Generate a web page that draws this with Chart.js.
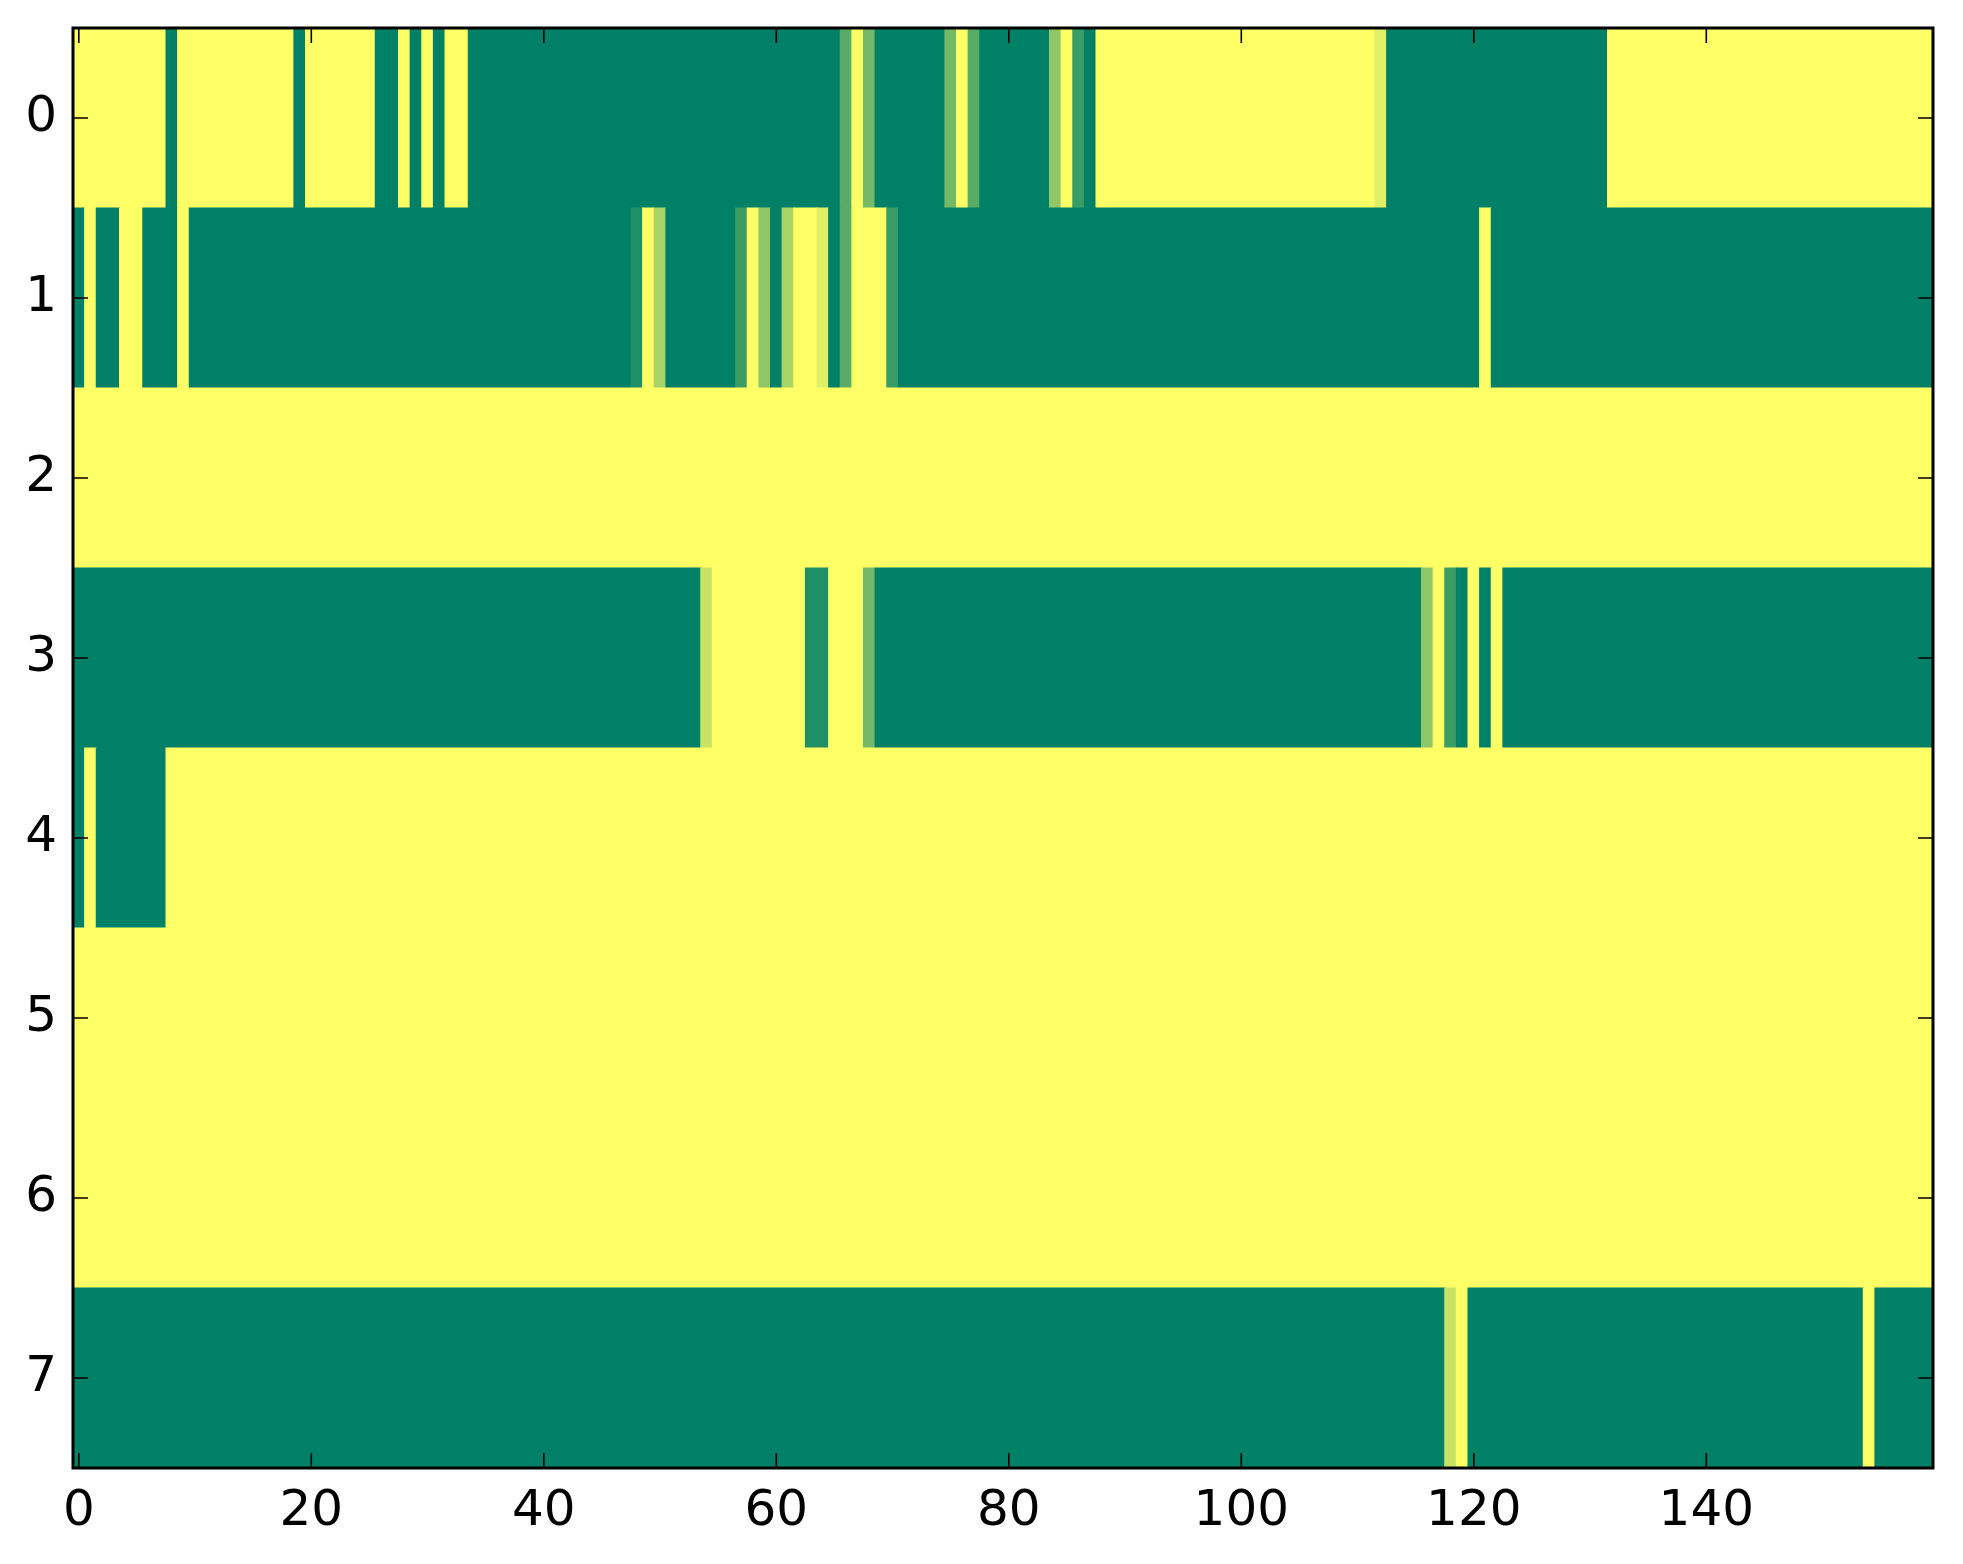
<!DOCTYPE html>
<html>
<head>
<meta charset="utf-8">
<script src="https://cdn.jsdelivr.net/npm/chart.js@4"></script>
<style>
html,body{margin:0;padding:0;background:#ffffff;}
canvas{display:block;}
</style>
</head>
<body>
<canvas id="c" width="1963" height="1564" style="width:1963px;height:1564px"></canvas>
<script>
// Row labels (y categories) and x tick labels
const rowLabels = ['0','1','2','3','4','5','6','7'];
const xTickValues = [0, 20, 40, 60, 80, 100, 120, 140];

// Cell values per row, 160 columns each (0 = green, 1 = yellow)
const row0 = [
  1,1,1,1,1,1,1,1,0,1,1,1,1,1,1,1,1,1,1,0,
  1,1,1,1,1,1,0,0,1,0,1,0,1,1,0,0,0,0,0,0,
  0,0,0,0,0,0,0,0,0,0,0,0,0,0,0,0,0,0,0,0,
  0,0,0,0,0,0,0.35,1,0.45,0,0,0,0,0,0,0.45,1,0.35,0,0,
  0,0,0,0,0.56,1,0.23,0,1,1,1,1,1,1,1,1,1,1,1,1,
  1,1,1,1,1,1,1,1,1,1,1,1,0.88,0,0,0,0,0,0,0,
  0,0,0,0,0,0,0,0,0,0,0,0,1,1,1,1,1,1,1,1,
  1,1,1,1,1,1,1,1,1,1,1,1,1,1,1,1,1,1,1,1
];
const row1 = [
  0,1,0,0,1,1,0,0,0,1,0,0,0,0,0,0,0,0,0,0,
  0,0,0,0,0,0,0,0,0,0,0,0,0,0,0,0,0,0,0,0,
  0,0,0,0,0,0,0,0,0.12,1,0.66,0,0,0,0,0,0,0.23,1,0.56,
  0,0.66,1,1,0.88,0,0.35,1,1,1,0.23,0,0,0,0,0,0,0,0,0,
  0,0,0,0,0,0,0,0,0,0,0,0,0,0,0,0,0,0,0,0,
  0,0,0,0,0,0,0,0,0,0,0,0,0,0,0,0,0,0,0,0,
  0,1,0,0,0,0,0,0,0,0,0,0,0,0,0,0,0,0,0,0,
  0,0,0,0,0,0,0,0,0,0,0,0,0,0,0,0,0,0,0,0
];
const row2 = [
  1,1,1,1,1,1,1,1,1,1,1,1,1,1,1,1,1,1,1,1,
  1,1,1,1,1,1,1,1,1,1,1,1,1,1,1,1,1,1,1,1,
  1,1,1,1,1,1,1,1,1,1,1,1,1,1,1,1,1,1,1,1,
  1,1,1,1,1,1,1,1,1,1,1,1,1,1,1,1,1,1,1,1,
  1,1,1,1,1,1,1,1,1,1,1,1,1,1,1,1,1,1,1,1,
  1,1,1,1,1,1,1,1,1,1,1,1,1,1,1,1,1,1,1,1,
  1,1,1,1,1,1,1,1,1,1,1,1,1,1,1,1,1,1,1,1,
  1,1,1,1,1,1,1,1,1,1,1,1,1,1,1,1,1,1,1,1
];
const row3 = [
  0,0,0,0,0,0,0,0,0,0,0,0,0,0,0,0,0,0,0,0,
  0,0,0,0,0,0,0,0,0,0,0,0,0,0,0,0,0,0,0,0,
  0,0,0,0,0,0,0,0,0,0,0,0,0,0,0.78,1,1,1,1,1,
  1,1,1,0.12,0.12,1,1,1,0.45,0,0,0,0,0,0,0,0,0,0,0,
  0,0,0,0,0,0,0,0,0,0,0,0,0,0,0,0,0,0,0,0,
  0,0,0,0,0,0,0,0,0,0,0,0,0,0,0,0,0.56,1,0.23,0,
  1,0,1,0,0,0,0,0,0,0,0,0,0,0,0,0,0,0,0,0,
  0,0,0,0,0,0,0,0,0,0,0,0,0,0,0,0,0,0,0,0
];
const row4 = [
  0,1,0,0,0,0,0,0,1,1,1,1,1,1,1,1,1,1,1,1,
  1,1,1,1,1,1,1,1,1,1,1,1,1,1,1,1,1,1,1,1,
  1,1,1,1,1,1,1,1,1,1,1,1,1,1,1,1,1,1,1,1,
  1,1,1,1,1,1,1,1,1,1,1,1,1,1,1,1,1,1,1,1,
  1,1,1,1,1,1,1,1,1,1,1,1,1,1,1,1,1,1,1,1,
  1,1,1,1,1,1,1,1,1,1,1,1,1,1,1,1,1,1,1,1,
  1,1,1,1,1,1,1,1,1,1,1,1,1,1,1,1,1,1,1,1,
  1,1,1,1,1,1,1,1,1,1,1,1,1,1,1,1,1,1,1,1
];
const row5 = [
  1,1,1,1,1,1,1,1,1,1,1,1,1,1,1,1,1,1,1,1,
  1,1,1,1,1,1,1,1,1,1,1,1,1,1,1,1,1,1,1,1,
  1,1,1,1,1,1,1,1,1,1,1,1,1,1,1,1,1,1,1,1,
  1,1,1,1,1,1,1,1,1,1,1,1,1,1,1,1,1,1,1,1,
  1,1,1,1,1,1,1,1,1,1,1,1,1,1,1,1,1,1,1,1,
  1,1,1,1,1,1,1,1,1,1,1,1,1,1,1,1,1,1,1,1,
  1,1,1,1,1,1,1,1,1,1,1,1,1,1,1,1,1,1,1,1,
  1,1,1,1,1,1,1,1,1,1,1,1,1,1,1,1,1,1,1,1
];
const row6 = [
  1,1,1,1,1,1,1,1,1,1,1,1,1,1,1,1,1,1,1,1,
  1,1,1,1,1,1,1,1,1,1,1,1,1,1,1,1,1,1,1,1,
  1,1,1,1,1,1,1,1,1,1,1,1,1,1,1,1,1,1,1,1,
  1,1,1,1,1,1,1,1,1,1,1,1,1,1,1,1,1,1,1,1,
  1,1,1,1,1,1,1,1,1,1,1,1,1,1,1,1,1,1,1,1,
  1,1,1,1,1,1,1,1,1,1,1,1,1,1,1,1,1,1,1,1,
  1,1,1,1,1,1,1,1,1,1,1,1,1,1,1,1,1,1,1,1,
  1,1,1,1,1,1,1,1,1,1,1,1,1,1,1,1,1,1,1,1
];
const row7 = [
  0,0,0,0,0,0,0,0,0,0,0,0,0,0,0,0,0,0,0,0,
  0,0,0,0,0,0,0,0,0,0,0,0,0,0,0,0,0,0,0,0,
  0,0,0,0,0,0,0,0,0,0,0,0,0,0,0,0,0,0,0,0,
  0,0,0,0,0,0,0,0,0,0,0,0,0,0,0,0,0,0,0,0,
  0,0,0,0,0,0,0,0,0,0,0,0,0,0,0,0,0,0,0,0,
  0,0,0,0,0,0,0,0,0,0,0,0,0,0,0,0,0,0,0.78,1,
  0,0,0,0,0,0,0,0,0,0,0,0,0,0,0,0,0,0,0,0,
  0,0,0,0,0,0,0,0,0,0,0,0,0,0,1,0,0,0,0,0
];

const rows = [row0, row1, row2, row3, row4, row5, row6, row7];
const nCols = row0.length;

// matplotlib "summer" colormap
function summer(v) {
  return 'rgb(' + Math.round(255 * v) + ',' + Math.round(255 * (0.5 + v / 2)) + ',102)';
}

// merge equal neighbouring cells of a row into one floating bar
const segments = [];
rows.forEach(function (vals, r) {
  let start = 0;
  for (let c = 1; c <= vals.length; c++) {
    if (c === vals.length || vals[c] !== vals[start]) {
      segments.push({ x: [start - 0.5, c - 0.5], y: rowLabels[r], v: vals[start] });
      start = c;
    }
  }
});

const FONT = { family: 'DejaVu Sans', size: 50 };
const TICK_LEN = 15;

const framePlugin = {
  id: 'frame',
  afterDraw(chart) {
    const ctx = chart.ctx;
    const a = chart.chartArea;
    const xs = chart.scales.x, ys = chart.scales.y;
    ctx.save();
    ctx.strokeStyle = '#000';
    ctx.lineWidth = 1.6;
    ctx.beginPath();
    xTickValues.forEach(function (v) {
      const p = xs.getPixelForValue(v);
      ctx.moveTo(p, a.bottom); ctx.lineTo(p, a.bottom - TICK_LEN);
      ctx.moveTo(p, a.top); ctx.lineTo(p, a.top + TICK_LEN);
    });
    ys.ticks.forEach(function (t, i) {
      const p = ys.getPixelForTick(i);
      ctx.moveTo(a.left, p); ctx.lineTo(a.left + TICK_LEN, p);
      ctx.moveTo(a.right, p); ctx.lineTo(a.right - TICK_LEN, p);
    });
    ctx.stroke();
    ctx.lineWidth = 3;
    ctx.strokeRect(a.left, a.top, a.right - a.left, a.bottom - a.top);
    ctx.restore();
  }
};

new Chart(document.getElementById('c').getContext('2d'), {
  type: 'bar',
  data: {
    labels: rowLabels,
    datasets: [{
      data: segments,
      backgroundColor: function (c) { return c.raw ? summer(c.raw.v) : '#000'; },
      borderWidth: 0,
      barPercentage: 1,
      categoryPercentage: 1,
      inflateAmount: 0.5
    }]
  },
  options: {
    indexAxis: 'y',
    responsive: false,
    animation: false,
    devicePixelRatio: 1,
    events: [],
    layout: { padding: { left: 0, top: 28, right: 30, bottom: 0 } },
    plugins: { legend: { display: false }, tooltip: { enabled: false } },
    scales: {
      x: {
        type: 'linear',
        position: 'bottom',
        min: -0.5,
        max: nCols - 0.5,
        grid: { display: false, drawTicks: false },
        border: { display: false },
        ticks: { font: FONT, color: '#000', padding: 14, maxRotation: 0, autoSkip: false },
        afterBuildTicks: function (s) { s.ticks = xTickValues.map(function (v) { return { value: v }; }); },
        afterFit: function (s) {
          s.height = 96;
          s.paddingLeft = 0; s.paddingRight = 0; s.paddingTop = 0; s.paddingBottom = 0;
        }
      },
      y: {
        type: 'category',
        position: 'left',
        grid: { display: false, drawTicks: false },
        border: { display: false },
        ticks: { font: FONT, color: '#000', padding: 16 },
        afterFit: function (s) {
          s.width = 73;
          s.paddingLeft = 0; s.paddingRight = 0; s.paddingTop = 0; s.paddingBottom = 0;
        }
      }
    }
  },
  plugins: [framePlugin]
});
</script>
</body>
</html>
